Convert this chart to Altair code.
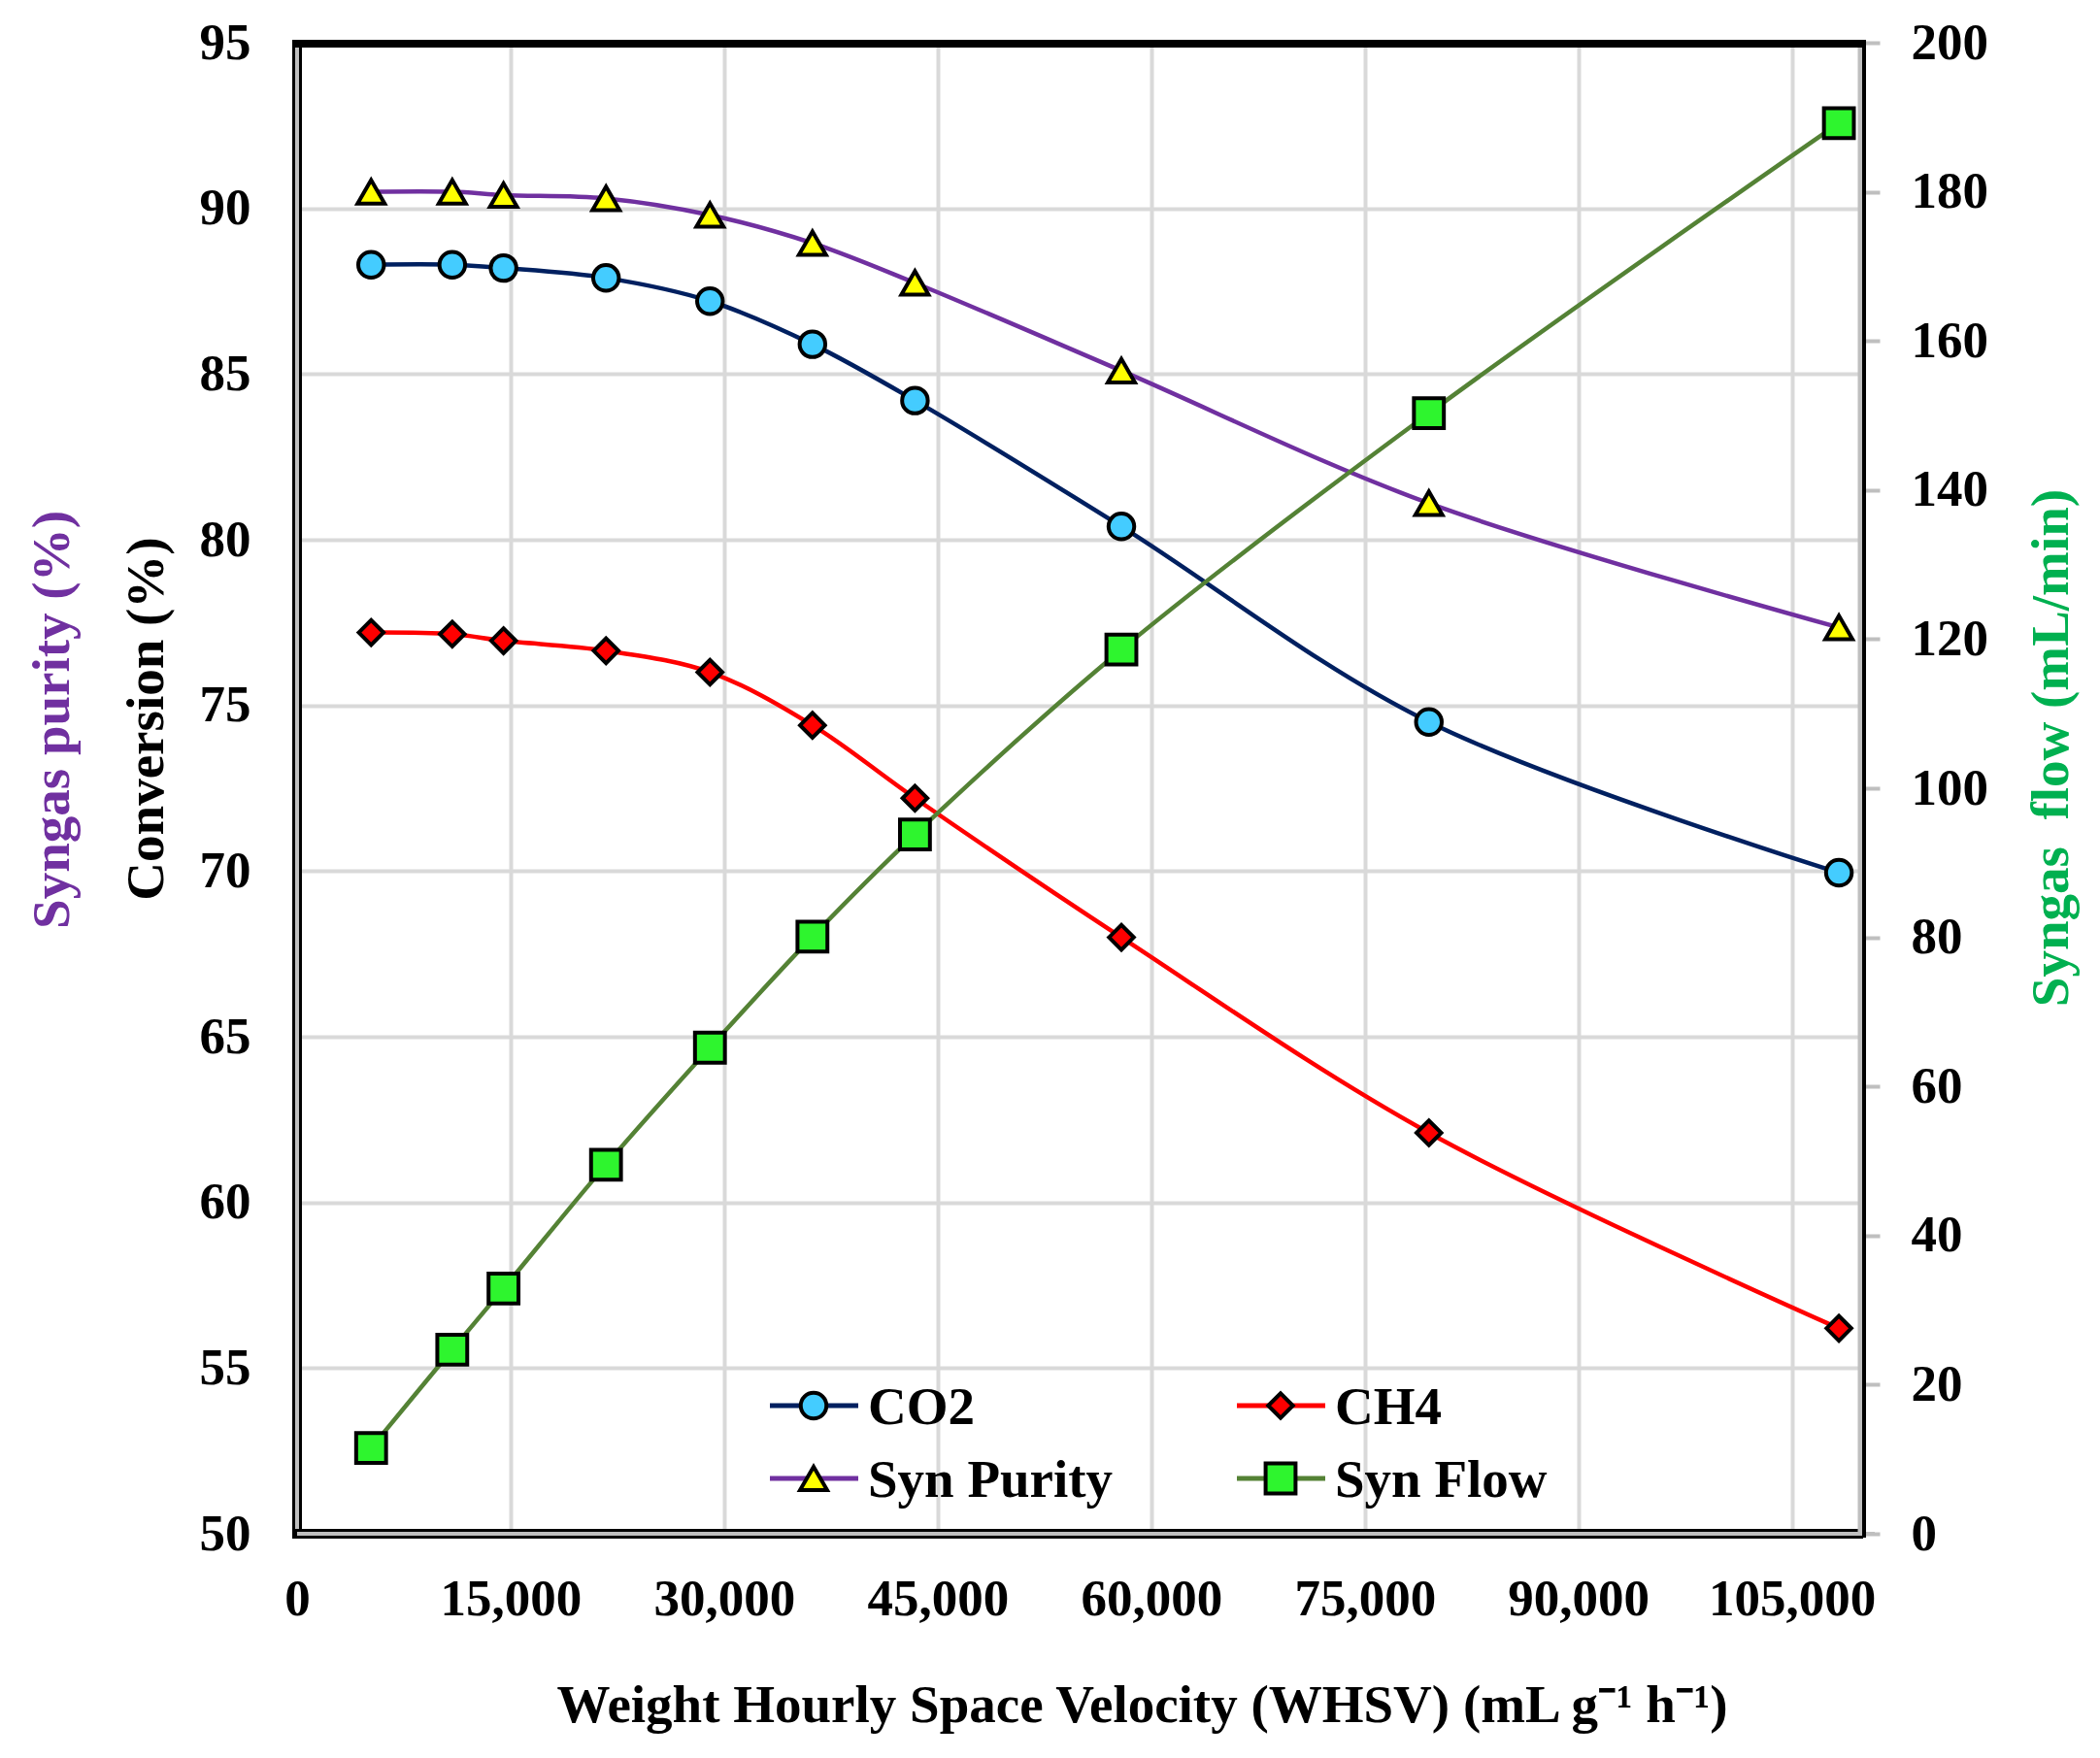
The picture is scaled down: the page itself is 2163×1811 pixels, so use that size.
import altair as alt
import pandas as pd

# ---- data ----
whsv = [5200, 10900, 14500, 21700, 29000, 36200, 43400, 57900, 79500, 108300]
co2 = [88.3, 88.3, 88.2, 87.9, 87.2, 85.9, 84.2, 80.4, 74.5, 69.95]
ch4 = [77.2, 77.15, 76.95, 76.65, 76.0, 74.4, 72.2, 68.0, 62.1, 56.2]
purity = [90.5, 90.5, 90.4, 90.3, 89.8, 88.95, 87.75, 85.1, 81.1, 77.35]
flow = [11.5, 24.7, 32.9, 49.5, 65.2, 80.1, 93.8, 118.6, 150.3, 189.2]
x_ticks = [0, 15000, 30000, 45000, 60000, 75000, 90000, 105000]
left_ticks = [50, 55, 60, 65, 70, 75, 80, 85, 90, 95]
right_ticks = [0, 20, 40, 60, 80, 100, 120, 140, 160, 180, 200]
series_names = ["CO2", "CH4", "Syn Purity", "Syn Flow"]

W, H = 1613, 1536
FONT = "Liberation Serif"
GRID = "#D9D9D9"


def frame(vals):
    return pd.DataFrame({"whsv": whsv, "v": vals})


xenc = alt.X(
    "whsv:Q",
    scale=alt.Scale(domain=[0, 110000], nice=False, zero=False),
    axis=alt.Axis(
        values=x_ticks, format=",.0f", grid=True, gridColor=GRID, gridWidth=4,
        ticks=False, tickSize=0, domain=False, labelFlush=False, labelOverlap=False,
        labelFont=FONT, labelFontSize=53, labelFontWeight="bold", labelColor="black",
        labelBaseline="alphabetic", labelPadding=83,
        title="Weight Hourly Space Velocity (WHSV) (mL g\u207b\u00b9 h\u207b\u00b9)",
        titleFont=FONT, titleFontSize=55, titleFontWeight="bold", titleColor="black",
        titleX=870, titleY=193, titleBaseline="alphabetic", titleAlign="center",
    ),
)

left_axis = alt.Axis(
    orient="left", values=left_ticks, grid=True, gridColor=GRID, gridWidth=4,
    ticks=False, tickSize=0, domain=False,
    labelFont=FONT, labelFontSize=53, labelFontWeight="bold", labelColor="black",
    labelBaseline="middle", labelPadding=48,
    title="Conversion (%)", titleFont=FONT, titleFontSize=55, titleFontWeight="bold",
    titleColor="black", titleAngle=270, titleX=-156, titleY=696,
    titleBaseline="middle", titleAlign="center",
)
left_scale = alt.Scale(domain=[50, 95], nice=False, zero=False)

purity_axis = alt.Axis(
    orient="left", labels=False, ticks=False, domain=False, grid=False,
    title="Syngas purity (%)", titleFont=FONT, titleFontSize=55, titleFontWeight="bold",
    titleColor="#7030A0", titleAngle=270, titleX=-253, titleY=697,
    titleBaseline="middle", titleAlign="center",
)

right_axis = alt.Axis(
    orient="right", values=right_ticks, grid=False, domain=False,
    ticks=True, tickSize=17, tickWidth=4, tickColor="#BFBFBF",
    labelFont=FONT, labelFontSize=53, labelFontWeight="bold", labelColor="black",
    labelBaseline="middle", labelAlign="left", labelPadding=32,
    title="Syngas\u00a0 flow (mL/min)", titleFont=FONT, titleFontSize=55,
    titleFontWeight="bold", titleColor="#00B050", titleAngle=270,
    titleX=193, titleY=726, titleBaseline="middle", titleAlign="center",
)


def series(vals, line_color, fill, shape, size, yenc):
    base = alt.Chart(frame(vals)).encode(x=xenc, y=yenc)
    line = base.mark_line(interpolate="catmull-rom", strokeWidth=4.5, color=line_color)
    pts = base.mark_point(shape=shape, filled=True, fill=fill, stroke="black",
                          strokeWidth=4, size=size, opacity=1)
    return line, pts


yl = alt.Y("v:Q", scale=left_scale, axis=left_axis)
co2_l, co2_p = series(co2, "#002060", "#44CCFF", "circle", 700, yl)
ch4_l, ch4_p = series(ch4, "#FF0000", "#FF0000", "diamond", 650, yl)
layer_conv = alt.layer(co2_l, ch4_l, co2_p, ch4_p)

yp = alt.Y("v:Q", scale=alt.Scale(domain=[50, 95], nice=False, zero=False), axis=purity_axis)
pur_l, pur_p = series(purity, "#7030A0", "#FFFF00", "triangle-up", 780, yp)
layer_pur = alt.layer(pur_l, pur_p)

yr = alt.Y("v:Q", scale=alt.Scale(domain=[0, 200], nice=False, zero=False), axis=right_axis)
flo_l, flo_p = series(flow, "#548235", "#2EF52E", "square", 950, yr)
layer_flow = alt.layer(flo_l, flo_p)

# ---- manual legend (inside plot) ----
one = pd.DataFrame({"k": [0]})
legend_specs = [
    (series_names[0], "#002060", "#44CCFF", "circle", 700, 487, 1404),
    (series_names[1], "#FF0000", "#FF0000", "diamond", 650, 968, 1404),
    (series_names[2], "#7030A0", "#FFFF00", "triangle-up", 780, 487, 1479),
    (series_names[3], "#548235", "#2EF52E", "square", 950, 968, 1479),
]
legend_layers = []
for label, lc, fc, shp, sz, lx, ly in legend_specs:
    legend_layers.append(
        alt.Chart(one).mark_rule(color=lc, strokeWidth=5).encode(
            x=alt.value(lx), x2=alt.value(lx + 91), y=alt.value(ly))
    )
    legend_layers.append(
        alt.Chart(one).mark_point(shape=shp, filled=True, fill=fc, stroke="black",
                                  strokeWidth=4, size=sz, opacity=1).encode(
            x=alt.value(lx + 45), y=alt.value(ly))
    )
    legend_layers.append(
        alt.Chart(one).mark_text(text=label, align="left", baseline="middle", font=FONT,
                                 fontSize=55, fontWeight="bold", color="black").encode(
            x=alt.value(lx + 101), y=alt.value(ly + 2))
    )

# ---- plot frame ----
border_layers = [
    alt.Chart(one).mark_rule(color="black", strokeWidth=10).encode(
        x=alt.value(0), y=alt.value(0), y2=alt.value(H)),
    alt.Chart(one).mark_rule(color="#BFBFBF", strokeWidth=4).encode(
        x=alt.value(0), y=alt.value(0), y2=alt.value(H)),
    alt.Chart(one).mark_rule(color="black", strokeWidth=10).encode(
        x=alt.value(-5), x2=alt.value(W), y=alt.value(H)),
    alt.Chart(one).mark_rule(color="#BFBFBF", strokeWidth=4).encode(
        x=alt.value(0), x2=alt.value(W + 12), y=alt.value(H)),
    alt.Chart(one).mark_rule(color="#BFBFBF", strokeWidth=5).encode(
        x=alt.value(W - 3), y=alt.value(0), y2=alt.value(H)),
    alt.Chart(one).mark_rule(color="black", strokeWidth=4).encode(
        x=alt.value(W + 1), y=alt.value(0), y2=alt.value(H + 4)),
    alt.Chart(one).mark_rule(color="black", strokeWidth=8).encode(
        x=alt.value(-5), x2=alt.value(W + 3), y=alt.value(1)),
]

chart = (
    alt.layer(layer_conv, layer_pur, layer_flow, *legend_layers, *border_layers)
    .resolve_scale(y="independent")
    .properties(
        width=W, height=H,
        autosize=alt.AutoSizeParams(type="none"),
        padding={"left": 298, "top": 36, "right": 230, "bottom": 215},
        background="white",
    )
    .configure_view(stroke=None)
)

chart.save("out.html", embed_options={"renderer": "svg", "actions": False})
